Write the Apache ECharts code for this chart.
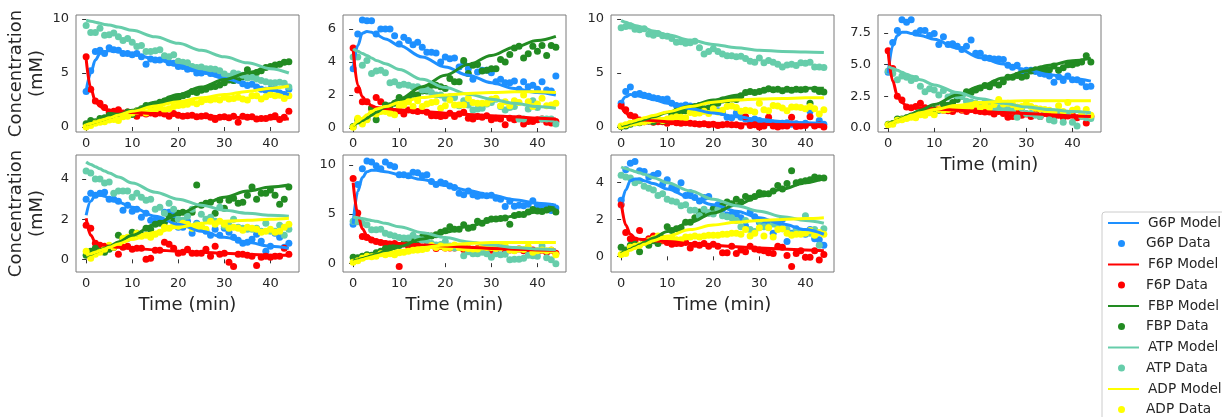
<!DOCTYPE html>
<html><head><meta charset="utf-8">
<script src="https://cdn.jsdelivr.net/npm/echarts@6.0.0/dist/echarts.min.js"></script>
<style>html,body{margin:0;padding:0;background:#fff}#c{width:1222px;height:417px}</style>
</head><body><div id="c"></div>
<script>
// ---------- time points ----------
const timeData = [0,1,2,3,4,5,6,7,8,9,10,11,12,13,14,15,16,17,18,19,20,21,22,23,24,25,26,27,28,29,30,31,32,33,34,35,36,37,38,39,40,41,42,43,44];
const timeModel = [0,1,2,3,4,5,7,10,15,20,25,30,35,40,44];
const species = ['G6P','F6P','FBP','ATP','ADP'];
const xTicks = [0,10,20,30,40];

// ---------- panel 1 ----------
const m1_G6P = [3.3,5.0,6.2,6.8,7.0,7.05,7.0,6.75,6.3,5.7,5.1,4.5,3.95,3.4,3.0];
const m1_F6P = [6.3,3.6,2.4,1.9,1.65,1.55,1.45,1.35,1.25,1.15,1.05,0.95,0.85,0.8,0.75];
const m1_FBP = [0.2,0.33,0.47,0.6,0.74,0.88,1.15,1.55,2.3,3.0,3.7,4.4,5.0,5.6,6.1];
const m1_ATP = [9.9,9.8,9.7,9.6,9.5,9.45,9.25,8.95,8.35,7.75,7.1,6.5,5.95,5.4,5.0];
const m1_ADP = [0.2,0.33,0.46,0.6,0.73,0.85,1.1,1.45,1.95,2.35,2.7,3.0,3.3,3.6,3.8];
const d1_G6P = [3.3,5.2,7.0,7.1,6.8,7.35,7.15,7.1,6.8,6.8,6.7,6.8,6.5,5.8,6.3,6.2,6.2,6.4,5.95,5.9,5.6,5.6,5.35,5.4,5.0,5.0,5.15,4.95,4.9,4.8,4.55,4.4,4.3,4.35,4.0,3.85,3.95,3.7,3.5,3.4,3.5,3.6,3.15,3.0,3.5];
const d1_F6P = [6.5,3.5,2.4,2.2,1.8,1.4,1.45,1.6,1.3,1.4,1.3,1.0,1.3,1.2,1.3,1.2,1.3,1.2,1.0,1.25,1.1,1.0,1.05,1.1,0.95,1.0,1.05,0.9,0.7,0.9,0.95,0.85,1.0,0.45,1.0,0.9,0.95,0.75,0.8,0.8,0.9,1.05,0.7,0.9,1.45];
const d1_FBP = [0.3,0.6,0.5,0.8,0.85,1.1,1.2,1.2,1.25,1.4,1.15,1.5,1.7,2.0,2.0,2.1,2.3,2.4,2.6,2.55,2.7,2.9,3.0,3.3,3.2,3.4,3.5,3.7,3.75,3.9,4.1,4.35,4.3,4.5,4.65,5.3,4.9,5.05,5.2,5.5,5.6,5.75,5.8,6.0,6.05];
const d1_ATP = [9.4,8.75,8.75,9.15,8.5,8.55,8.7,8.35,8.0,8.2,7.85,7.45,7.55,7.0,7.0,7.05,7.15,6.6,6.5,6.7,6.1,6.0,5.95,5.6,5.5,5.55,5.4,5.4,5.35,5.2,4.9,4.7,5.0,4.9,4.8,4.55,4.6,4.45,4.3,4.2,4.1,4.1,4.15,4.05,3.7];
const d1_ADP = [0.0,0.15,0.35,0.45,0.5,0.65,0.7,0.6,0.95,1.0,1.3,1.45,1.6,1.3,1.5,1.55,1.8,1.6,1.7,1.9,2.0,2.05,2.1,2.3,2.15,2.35,2.55,2.5,2.6,2.5,2.75,2.6,2.65,2.75,2.6,2.5,2.9,2.9,2.6,2.8,3.0,2.9,2.95,2.65,2.9];

// ---------- panel 2 ----------
const m2_G6P = [3.6,5.0,5.75,5.85,5.8,5.65,5.4,5.0,4.3,3.7,3.2,2.75,2.4,2.15,2.0];
const m2_F6P = [4.8,2.6,1.9,1.55,1.35,1.25,1.18,1.1,1.0,0.9,0.82,0.75,0.68,0.6,0.55];
const m2_FBP = [0.15,0.3,0.45,0.6,0.78,0.95,1.28,1.75,2.5,3.2,3.85,4.4,4.9,5.3,5.55];
const m2_ATP = [4.8,4.65,4.52,4.4,4.25,4.1,3.9,3.55,2.95,2.45,2.05,1.75,1.5,1.3,1.2];
const m2_ADP = [0.15,0.4,0.6,0.8,1.0,1.15,1.3,1.55,1.85,2.0,2.1,2.15,2.2,2.2,2.15];
const d2_G6P = [3.6,5.7,6.55,6.5,6.5,5.7,6.0,6.0,6.0,5.6,5.1,5.5,5.3,5.05,5.2,4.9,4.6,4.6,4.55,4.0,4.3,4.2,4.25,3.7,3.95,3.6,2.95,3.4,3.5,3.5,3.35,2.8,2.95,2.75,2.75,2.85,2.35,2.8,2.5,2.6,2.35,2.8,2.3,2.25,3.15];
const d2_F6P = [4.85,2.3,1.6,1.6,1.2,1.85,1.6,1.2,1.1,1.0,1.05,0.85,1.1,1.05,1.0,1.05,0.95,0.75,0.75,0.7,0.75,0.9,0.7,0.85,0.95,0.6,0.55,0.7,0.65,0.75,0.5,0.6,0.55,0.2,0.6,0.5,0.6,0.25,0.4,0.4,0.5,0.55,0.35,0.3,0.4];
const d2_FBP = [0.1,0.5,0.4,0.55,1.2,0.5,1.05,1.4,1.35,1.5,1.85,1.7,1.8,2.05,2.0,2.25,2.25,2.6,2.6,2.5,2.4,3.0,2.8,2.8,4.1,3.3,3.8,3.85,3.45,3.5,3.6,3.6,4.15,4.0,4.45,4.85,4.95,4.25,4.5,4.95,4.65,5.0,4.4,5.0,4.9];
const d2_ATP = [4.3,4.3,3.8,4.1,3.3,3.45,3.5,3.35,2.75,2.8,2.6,2.65,2.6,2.5,2.5,2.3,2.3,2.15,2.0,2.0,1.8,1.9,1.85,1.35,1.65,1.4,1.1,1.15,1.2,1.45,1.55,1.75,1.3,1.1,1.25,1.3,0.55,0.55,1.15,1.65,1.25,0.55,0.55,0.55,0.25];
const d2_ADP = [0.05,0.6,0.25,0.5,0.9,0.85,1.0,1.0,0.9,0.8,1.3,1.4,1.6,1.3,1.65,1.3,1.45,1.55,1.6,1.2,1.35,1.7,1.4,1.4,1.4,1.8,1.55,1.5,1.5,1.5,1.75,1.8,1.35,1.6,1.35,1.65,1.55,2.0,1.6,1.3,1.45,1.8,1.35,1.4,1.5];

// ---------- panel 3 ----------
const m3_G6P = [2.2,2.8,3.0,2.95,2.85,2.75,2.55,2.2,1.7,1.3,0.95,0.7,0.5,0.4,0.35];
const m3_F6P = [2.0,1.3,0.95,0.8,0.7,0.65,0.58,0.5,0.42,0.35,0.3,0.25,0.22,0.2,0.2];
const m3_FBP = [0.1,0.22,0.34,0.46,0.58,0.7,0.95,1.35,1.95,2.5,2.95,3.3,3.5,3.6,3.6];
const m3_ATP = [9.85,9.7,9.55,9.4,9.3,9.15,8.9,8.55,8.05,7.65,7.35,7.1,7.0,6.95,6.9];
const m3_ADP = [0.2,0.33,0.46,0.59,0.72,0.85,1.07,1.4,1.9,2.3,2.5,2.6,2.65,2.7,2.7];
const d3_G6P = [2.2,3.3,3.7,3.0,3.1,2.95,2.85,2.7,2.65,2.55,2.6,2.2,2.0,1.95,2.05,1.95,1.7,1.6,1.5,1.7,1.6,1.5,1.35,0.9,0.85,1.3,0.9,0.75,0.55,0.75,0.6,0.45,0.4,0.35,0.3,0.35,0.4,0.25,0.3,0.2,0.35,1.45,0.15,0.6,0.25];
const d3_F6P = [1.95,1.6,1.1,0.95,0.65,0.5,0.55,0.45,0.5,0.5,0.35,0.5,0.4,0.35,0.4,0.35,0.3,0.25,0.3,0.2,0.25,0.15,0.2,0.25,0.2,0.2,0.1,0.95,0.15,0.2,0.0,0.1,0.9,0.1,0.0,0.1,0.1,0.9,0.05,0.1,0.15,0.95,0.1,0.2,0.0];
const d3_FBP = [0.05,0.1,0.25,0.4,0.4,0.55,0.55,0.5,0.7,0.55,0.65,1.15,1.45,1.45,1.5,1.75,1.9,2.0,1.7,1.75,2.05,2.2,2.5,2.5,2.6,2.55,2.9,3.2,3.3,3.2,3.3,3.4,3.55,3.45,3.5,3.35,3.5,3.4,3.5,3.45,3.5,2.2,3.5,3.3,3.25];
const d3_ATP = [9.2,9.3,9.35,9.05,9.0,9.1,8.6,8.5,8.65,8.45,8.4,8.2,7.85,7.9,7.75,7.8,7.95,7.35,6.75,7.0,7.25,7.0,6.75,6.6,6.6,6.5,6.55,6.35,6.1,6.0,6.4,5.95,6.15,6.0,5.8,5.55,5.75,5.8,5.7,5.95,5.9,6.0,5.55,5.55,5.5];
const d3_ADP = [0.1,0.2,0.35,0.4,0.45,0.5,0.6,0.7,0.75,0.6,0.75,0.85,0.95,0.9,0.85,1.35,1.25,1.3,1.45,1.25,1.7,1.4,1.55,1.9,1.95,1.8,1.45,1.55,1.5,1.4,2.2,1.6,1.5,2.0,1.95,1.75,1.5,1.85,1.85,1.8,1.7,1.9,1.7,1.2,1.6];

// ---------- panel 4 ----------
const m4_G6P = [4.3,6.5,7.3,7.55,7.55,7.45,7.3,7.0,6.3,5.55,5.05,4.6,4.2,3.9,3.7];
const m4_F6P = [6.0,3.7,2.55,2.0,1.75,1.65,1.6,1.5,1.4,1.3,1.22,1.15,1.05,0.95,0.9];
const m4_FBP = [0.3,0.45,0.6,0.77,0.94,1.1,1.4,1.85,2.6,3.3,3.95,4.5,4.95,5.3,5.5];
const m4_ATP = [4.85,4.7,4.55,4.4,4.25,4.1,3.8,3.4,2.8,2.3,1.95,1.65,1.45,1.3,1.2];
const m4_ADP = [0.25,0.42,0.58,0.73,0.87,1.0,1.2,1.45,1.8,2.0,2.1,2.15,2.15,2.15,2.15];
const d4_G6P = [4.4,6.75,7.7,8.55,8.35,8.55,7.5,7.7,7.7,7.3,7.45,6.6,7.2,6.6,6.65,6.45,6.2,6.45,6.95,5.9,5.9,5.55,5.5,5.45,5.45,5.4,4.95,4.8,4.95,4.5,4.55,4.55,4.45,4.3,4.25,4.1,3.6,4.05,3.75,4.1,3.8,3.8,3.6,3.25,3.3];
const d4_F6P = [6.1,4.7,2.5,2.2,1.65,1.6,1.7,1.95,1.6,1.5,1.4,1.5,1.4,1.35,1.3,1.5,1.4,1.3,1.45,1.35,1.3,1.25,1.25,1.1,1.3,1.15,0.85,0.9,1.2,1.0,1.1,0.9,1.1,0.9,1.15,1.0,0.9,1.0,0.85,0.95,1.0,0.8,0.95,0.4,0.9];
const d4_FBP = [0.3,0.35,0.7,0.7,0.8,0.9,1.05,1.1,1.2,1.35,1.45,1.4,1.9,1.8,2.0,2.25,2.5,2.85,2.8,3.0,3.15,3.35,3.25,3.55,3.4,3.65,4.0,4.0,4.15,4.0,4.1,4.5,4.6,4.65,4.6,4.6,4.9,4.55,4.75,5.0,5.0,5.1,5.2,5.7,5.2];
const d4_ATP = [4.5,4.3,3.8,4.1,4.0,3.75,3.9,3.3,2.85,3.1,3.0,2.6,2.95,2.45,2.6,2.55,2.5,2.1,2.05,1.95,1.85,2.0,1.95,1.45,1.6,1.55,1.5,1.35,0.85,1.55,1.15,1.15,1.0,0.9,1.35,0.65,0.55,1.25,0.45,1.15,0.45,0.15,0.9,0.8,0.75];
const d4_ADP = [0.25,0.3,0.6,0.65,0.75,0.85,0.8,1.05,1.0,1.2,1.05,1.45,1.4,1.45,1.55,1.6,1.5,1.65,1.7,1.9,1.6,1.75,1.6,1.85,2.25,1.9,1.95,1.85,1.65,1.7,1.9,1.7,1.55,1.5,1.45,1.4,1.25,1.75,1.3,2.0,1.4,1.5,1.05,1.45,1.0];

// ---------- panel 5 ----------
const m5_G6P = [2.2,2.9,3.2,3.2,3.15,3.05,2.85,2.6,2.15,1.75,1.4,1.1,0.85,0.65,0.55];
const m5_F6P = [2.05,1.2,0.85,0.75,0.7,0.65,0.6,0.55,0.47,0.4,0.35,0.3,0.25,0.2,0.2];
const m5_FBP = [0.15,0.25,0.35,0.45,0.55,0.65,0.87,1.2,1.75,2.25,2.7,3.1,3.4,3.6,3.7];
const m5_ATP = [4.85,4.73,4.62,4.51,4.4,4.3,4.1,3.8,3.35,3.0,2.7,2.45,2.3,2.2,2.15];
const m5_ADP = [0.2,0.28,0.36,0.44,0.52,0.6,0.77,1.0,1.35,1.6,1.8,1.9,1.95,2.0,2.05];
const d5_G6P = [3.0,3.3,3.2,3.3,3.35,3.0,3.0,2.9,2.45,2.7,2.4,2.5,2.1,2.3,1.95,1.95,1.95,2.35,2.35,2.2,1.6,1.6,1.9,1.3,1.8,1.6,1.4,1.2,1.5,1.2,1.55,1.35,1.1,0.95,0.8,0.85,1.0,1.25,0.9,0.4,0.65,1.3,1.1,0.6,0.8];
const d5_F6P = [1.7,1.55,0.8,0.7,0.65,0.6,0.6,0.25,0.6,0.65,0.5,0.55,0.55,0.0,0.05,0.45,0.45,0.85,0.75,0.55,0.3,0.35,0.5,0.3,0.3,0.3,0.5,0.15,0.65,0.25,0.3,-0.15,-0.35,0.25,0.25,0.2,0.15,-0.3,0.1,0.15,0.1,0.15,0.15,0.55,0.25];
const d5_FBP = [0.2,0.4,0.55,0.4,0.35,0.5,0.6,1.2,1.0,1.05,1.35,1.3,1.2,1.55,1.5,1.75,1.8,1.85,2.15,1.9,2.3,2.35,2.3,2.35,3.7,2.7,2.8,2.85,2.3,2.95,2.55,2.95,3.05,2.8,2.85,3.2,3.6,3.0,3.3,3.3,3.45,3.2,2.75,3.0,3.6];
const d5_ATP = [4.4,4.3,4.0,4.0,3.8,3.85,3.3,3.4,3.4,3.4,3.1,3.3,3.1,2.95,3.0,2.5,2.6,2.3,2.8,2.5,2.0,1.95,2.15,2.5,1.75,2.25,2.0,2.1,1.9,2.6,1.65,1.7,2.0,1.6,1.55,1.5,1.5,1.55,1.4,1.8,1.4,1.4,1.7,1.2,1.5];
const d5_ADP = [0.4,0.05,0.25,0.35,0.5,0.7,0.6,0.75,1.05,1.1,1.1,1.3,1.15,1.2,1.1,1.25,1.35,1.6,1.55,1.7,1.65,1.8,1.75,1.55,1.6,1.65,1.5,1.9,1.75,1.9,1.75,1.55,1.6,1.55,1.45,1.6,1.55,1.5,1.35,1.4,1.5,1.35,1.4,1.6,1.75];

// ---------- panel 6 ----------
const m6_G6P = [4.0,7.3,8.7,9.3,9.45,9.45,9.3,9.0,8.5,7.9,7.4,6.9,6.45,6.1,5.9];
const m6_F6P = [8.2,5.0,3.5,2.8,2.5,2.3,2.15,2.0,1.85,1.75,1.62,1.5,1.42,1.35,1.3];
const m6_FBP = [0.2,0.33,0.47,0.61,0.75,0.9,1.2,1.7,2.45,3.15,3.75,4.3,4.8,5.2,5.5];
const m6_ATP = [4.7,4.62,4.53,4.44,4.35,4.25,4.05,3.7,3.1,2.6,2.15,1.85,1.6,1.45,1.35];
const m6_ADP = [0.1,0.25,0.38,0.51,0.63,0.75,0.97,1.25,1.6,1.85,2.0,2.1,2.1,2.1,2.1];
const d6_G6P = [3.95,8.0,9.6,10.4,10.3,9.9,9.6,10.3,9.95,9.8,9.0,9.0,8.9,9.25,9.2,8.9,9.0,8.3,8.0,8.25,8.1,7.85,7.7,7.1,6.95,7.35,6.95,6.8,6.9,6.85,6.9,6.6,6.5,5.75,6.3,5.8,5.9,5.85,6.0,6.35,5.9,5.75,5.75,5.35,5.6];
const d6_F6P = [8.6,5.1,2.7,2.6,2.35,2.2,2.1,2.0,1.95,2.0,-0.35,1.95,1.75,1.8,1.8,1.6,1.75,1.9,1.5,1.7,1.55,1.55,1.55,1.7,1.4,1.5,1.4,1.5,1.35,1.2,1.3,1.35,1.75,1.3,1.35,1.3,1.45,1.25,1.3,1.35,1.15,1.3,1.1,1.3,1.0];
const d6_FBP = [0.6,0.55,0.7,0.85,0.8,1.05,1.2,1.5,1.55,1.7,1.8,2.0,2.05,2.25,2.4,2.65,2.8,2.75,2.9,3.15,3.3,3.7,3.45,3.45,3.9,3.55,3.65,4.25,4.05,4.35,4.5,4.5,4.55,4.6,3.95,4.85,4.95,4.95,5.2,5.45,5.3,5.25,5.4,5.75,5.2];
const d6_ATP = [4.25,4.2,4.05,3.9,3.4,3.4,3.45,3.05,2.9,2.75,2.6,2.55,2.55,2.85,2.5,2.35,2.3,2.0,1.85,1.9,2.2,1.75,1.55,1.6,0.75,1.15,0.95,0.95,1.1,0.95,0.6,0.95,0.85,0.9,0.35,0.4,0.4,0.5,0.8,0.75,0.7,1.75,0.55,0.35,-0.05];
const d6_ADP = [0.1,0.25,0.5,0.7,0.65,0.7,0.95,0.85,0.95,0.85,1.05,1.1,1.2,1.3,1.35,1.4,1.5,1.8,1.6,1.75,1.55,1.6,1.85,1.6,1.55,1.5,1.45,1.45,1.65,1.6,1.6,1.5,1.6,1.75,1.35,1.25,1.45,1.4,1.7,1.1,1.25,1.35,1.25,1.35,0.85];

// ---------- panel 7 ----------
const m7_G6P = [2.6,3.6,4.1,4.2,4.2,4.1,3.95,3.65,3.2,2.8,2.45,2.1,1.75,1.45,1.2];
const m7_F6P = [2.95,1.7,1.2,1.0,0.93,0.9,0.85,0.8,0.7,0.6,0.52,0.45,0.4,0.35,0.3];
const m7_FBP = [0.15,0.27,0.39,0.51,0.63,0.75,0.99,1.35,1.85,2.35,2.8,3.25,3.65,4.0,4.25];
const m7_ATP = [4.85,4.77,4.69,4.61,4.53,4.45,4.27,4.0,3.55,3.1,2.75,2.45,2.15,1.95,1.8];
const m7_ADP = [0.1,0.22,0.33,0.44,0.55,0.65,0.85,1.1,1.45,1.7,1.85,1.95,2.0,2.05,2.1];
const d7_G6P = [3.05,4.7,5.05,5.15,4.65,4.6,4.3,4.4,4.5,3.9,4.15,3.75,3.6,4.0,3.3,3.45,3.2,3.0,3.2,3.25,2.6,2.8,2.55,2.25,2.3,2.3,2.1,1.65,2.4,2.15,1.85,1.75,1.75,1.25,1.8,2.0,0.8,1.25,1.5,1.3,1.2,1.45,0.95,0.9,0.6];
const d7_F6P = [2.8,1.3,0.95,0.8,1.4,0.8,0.95,1.1,0.75,0.85,0.75,0.65,0.7,0.7,0.75,0.45,0.65,0.6,0.7,0.55,0.65,0.55,0.2,0.2,0.55,0.15,0.35,0.25,0.55,0.4,0.35,0.3,0.2,0.15,0.55,0.5,0.05,-0.55,0.15,0.3,-0.05,-0.05,0.3,-0.2,0.1];
const d7_FBP = [0.5,0.35,0.6,0.65,0.25,0.75,0.6,0.85,0.7,1.0,1.6,1.4,1.5,1.55,1.85,1.85,2.1,2.4,2.3,2.35,2.55,2.65,2.75,2.95,2.85,3.1,2.95,3.25,3.15,3.25,3.45,3.4,3.4,3.55,3.85,3.65,3.95,4.65,4.0,4.05,4.1,4.15,4.3,4.25,4.25];
const d7_ATP = [4.4,4.3,4.25,4.0,4.1,3.8,3.7,3.6,3.3,3.4,3.1,3.0,2.95,2.75,2.8,2.5,2.5,2.2,2.55,2.35,2.3,2.55,2.2,2.15,2.1,1.95,1.6,1.95,1.45,1.35,1.95,1.6,1.6,1.75,1.65,1.5,1.45,1.2,1.4,1.35,2.2,1.25,1.45,0.6,1.5];
const d7_ADP = [0.1,0.15,0.5,0.55,0.6,0.75,0.85,0.95,1.1,0.9,0.95,1.0,0.9,0.9,1.05,1.05,1.1,1.05,1.1,1.15,1.15,1.15,1.2,1.2,1.25,1.25,1.2,1.45,1.1,1.25,1.55,1.1,1.55,1.05,1.45,1.5,1.25,1.15,1.2,1.2,1.25,1.4,1.15,1.3,1.2];

// ---------- axis ranges / ticks ----------
const yMin = [-0.46,-0.24,-0.46,-0.32,-0.63,-0.9,-0.85];
const yMax = [10.37,6.85,10.37,8.92,5.2,11.0,5.5];
const yTicks = [[0,5,10],[0,2,4,6],[0,5,10],[0,2.5,5,7.5],[0,2,4],[0,5,10],[0,2,4]];
const yDecimals = [0,0,0,1,0,0,0];

// ---------- assemble ----------
const modelSets = [
  [m1_G6P,m1_F6P,m1_FBP,m1_ATP,m1_ADP],[m2_G6P,m2_F6P,m2_FBP,m2_ATP,m2_ADP],
  [m3_G6P,m3_F6P,m3_FBP,m3_ATP,m3_ADP],[m4_G6P,m4_F6P,m4_FBP,m4_ATP,m4_ADP],
  [m5_G6P,m5_F6P,m5_FBP,m5_ATP,m5_ADP],[m6_G6P,m6_F6P,m6_FBP,m6_ATP,m6_ADP],
  [m7_G6P,m7_F6P,m7_FBP,m7_ATP,m7_ADP]];
const dataSets = [
  [d1_G6P,d1_F6P,d1_FBP,d1_ATP,d1_ADP],[d2_G6P,d2_F6P,d2_FBP,d2_ATP,d2_ADP],
  [d3_G6P,d3_F6P,d3_FBP,d3_ATP,d3_ADP],[d4_G6P,d4_F6P,d4_FBP,d4_ATP,d4_ADP],
  [d5_G6P,d5_F6P,d5_FBP,d5_ATP,d5_ADP],[d6_G6P,d6_F6P,d6_FBP,d6_ATP,d6_ADP],
  [d7_G6P,d7_F6P,d7_FBP,d7_ATP,d7_ADP]];

const colors = ['#1E90FF','#FF0000','#228B22','#66CDAA','#FFFF00'];
const FONT = 'DejaVu Sans';
const TXT = '#262626';
const gridLeft = [76,343,611,878,76,343,611];
const gridTop = [15,15,15,15,155,155,155];
const showXName = [false,false,false,true,true,true,true];
const showYName = [true,false,false,false,true,false,false];

const grids = [], xAxes = [], yAxes = [], series = [];
for (let p = 0; p < 7; p++) {
  grids.push({left: gridLeft[p], top: gridTop[p], width: 223, height: 117,
    show: true, borderColor: '#7a7a7a', borderWidth: 1, backgroundColor: '#fff',
    containLabel: false, outerBoundsMode: 'none'});
  xAxes.push({type: 'value', gridIndex: p, min: -2.2, max: 46.2,
    axisLine: {show: false}, splitLine: {show: false},
    axisTick: {show: true, length: 4, lineStyle: {color: '#333'}, customValues: xTicks},
    axisLabel: {customValues: xTicks, fontSize: 13, fontFamily: FONT, color: TXT, margin: 5},
    name: showXName[p] ? 'Time (min)' : '', nameLocation: 'middle', nameGap: 24,
    nameTextStyle: {fontSize: 18, fontFamily: FONT, color: TXT}});
  const dec = yDecimals[p];
  yAxes.push({type: 'value', gridIndex: p, min: yMin[p], max: yMax[p],
    axisLine: {show: false}, splitLine: {show: false},
    axisTick: {show: true, length: 4, lineStyle: {color: '#333'}, customValues: yTicks[p]},
    axisLabel: {customValues: yTicks[p], fontSize: 13, fontFamily: FONT, color: TXT, margin: 7,
      formatter: v => Number(v).toFixed(dec)},
    name: showYName[p] ? 'Concentration\n(mM)' : '', nameLocation: 'middle', nameGap: 28,
    nameRotate: 90,
    nameTextStyle: {fontSize: 18, lineHeight: 21, fontFamily: FONT, color: TXT, align: 'center'}});
  for (let s = 0; s < 5; s++) {
    const c = colors[s];
    series.push({type: 'line', name: species[s] + ' Model', xAxisIndex: p, yAxisIndex: p,
      data: timeModel.map((t, i) => [t, modelSets[p][s][i]]),
      showSymbol: false, symbol: 'none', smooth: 0.35, smoothMonotone: 'x',
      lineStyle: {width: 3, color: c}, itemStyle: {color: c}, color: c, silent: true});
    series.push({type: 'scatter', name: species[s] + ' Data', xAxisIndex: p, yAxisIndex: p,
      data: timeData.map((t, i) => [t, dataSets[p][s][i]]),
      symbol: 'circle', symbolSize: 7, itemStyle: {color: c, opacity: 1}, color: c, silent: true});
  }
}

const legendText = {fontSize: 13.7, lineHeight: 20, fontFamily: FONT, color: TXT, padding: [0, 0, 0, 4]};
const option = {
  animation: false,
  backgroundColor: '#fff',
  grid: grids, xAxis: xAxes, yAxis: yAxes, series: series,
  legend: [
    {type: 'plain', orient: 'vertical', left: 1102, top: 212, height: 260,
     itemWidth: 31, itemHeight: 2, itemGap: 21.5,
     padding: [1, 100, 40, 6], borderColor: '#cccccc', borderWidth: 1, borderRadius: 3,
     backgroundColor: '#fff', selectedMode: false, textStyle: legendText,
     data: species.map(s => ({name: s + ' Model', icon: 'rect'}))},
    {type: 'plain', orient: 'vertical', left: 1118, top: 233.5, height: 260,
     itemWidth: 31, itemHeight: 7, itemGap: 21.5,
     padding: 0, selectedMode: false, textStyle: legendText,
     data: species.map(s => ({name: s + ' Data', icon: 'circle'}))}
  ]
};
const chart = echarts.init(document.getElementById('c'), null, {renderer: 'canvas'});
chart.setOption(option);
</script>
</body></html>
